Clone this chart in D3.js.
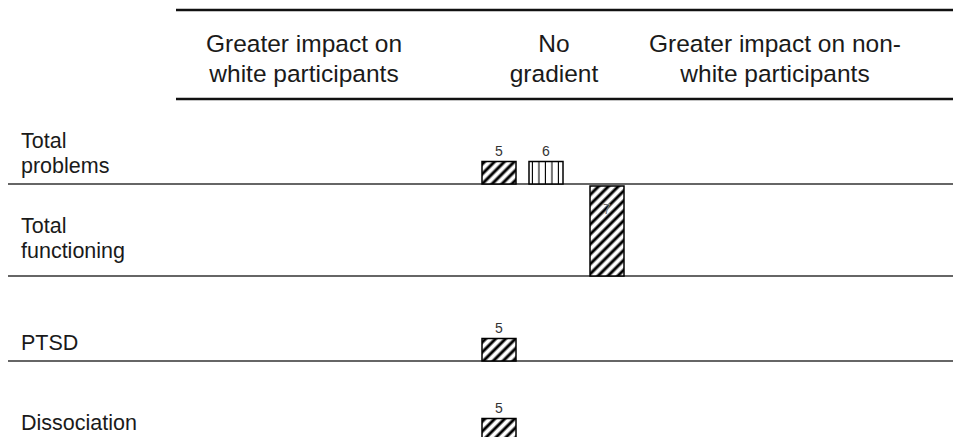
<!DOCTYPE html>
<html>
<head>
<meta charset="utf-8">
<script src="https://cdn.jsdelivr.net/npm/d3@7"></script>
<style>
  body { margin: 0; background: #fff; }
  text { font-family: "Liberation Sans", Arial, sans-serif; fill: #1a1a1a; }
</style>
</head>
<body>
<script>
// harvest plot data
let outcomes = ["Total problems", "Total functioning", "PTSD", "Dissociation"];
let outcomeLines = [["Total", "problems"], ["Total", "functioning"], ["PTSD"], ["Dissociation"]];
let columns = ["white", "none", "nonwhite"];
let columnLines = [["Greater impact on", "white participants"], ["No", "gradient"], ["Greater impact on non-", "white participants"]];

// one entry per study mark
let studyId      = [5, 6, 7, 5, 5];
let studyOutcome = ["Total problems", "Total problems", "Total functioning", "PTSD", "Dissociation"];
let studyColumn  = ["none", "none", "none", "none", "none"];
let studyWeight  = [1, 1, 4, 1, 1];
let studyDesign  = ["cross", "long", "cross", "cross", "cross"];

let width = 953, height = 437;
let headTop = 10, headBottom = 99;
let rowHeights = [85, 92, 85, 80];
let colCenters = [304, 554, 775];

let svg = d3.select("body").append("svg")
  .attr("width", width).attr("height", height);

let defs = svg.append("defs");
let diag = defs.append("pattern")
  .attr("id", "diag").attr("patternUnits", "userSpaceOnUse")
  .attr("width", 7).attr("height", 7)
  .attr("patternTransform", "rotate(45)");
diag.append("rect").attr("width", 7).attr("height", 7).attr("fill", "#fff");
diag.append("line").attr("x1", 2).attr("y1", 0).attr("x2", 2).attr("y2", 7)
  .attr("stroke", "#000").attr("stroke-width", 3);

let vert = defs.append("pattern")
  .attr("id", "vert").attr("patternUnits", "userSpaceOnUse")
  .attr("width", 6.5).attr("height", 6);
vert.append("rect").attr("width", 6.5).attr("height", 6).attr("fill", "#fff");
vert.append("line").attr("x1", 6).attr("y1", 0).attr("x2", 6).attr("y2", 6)
  .attr("stroke", "#000").attr("stroke-width", 1.2);

let fill = d3.scaleOrdinal().domain(["cross", "long"]).range(["url(#diag)", "url(#vert)"]);

// rows
let rowTop = {}, rowBottom = {};
let acc = headBottom;
outcomes.forEach((o, i) => { rowTop[o] = acc; acc += rowHeights[i]; rowBottom[o] = acc; });

let colX = d3.scaleOrdinal().domain(columns).range(colCenters);
// study position inside a column
let offset = d3.scaleLinear().domain([5, 6, 7]).range([-72, -25, 36]);
let barW = 34;
let h = d3.scaleLinear().domain([0, 4]).range([0, 90]);

// header
svg.append("line").attr("x1", 176).attr("x2", width).attr("y1", headTop).attr("y2", headTop)
  .attr("stroke", "#111").attr("stroke-width", 2.5);
svg.append("line").attr("x1", 176).attr("x2", width).attr("y1", headBottom).attr("y2", headBottom)
  .attr("stroke", "#111").attr("stroke-width", 2.5);

columns.forEach((c, i) => {
  let t = svg.append("text").attr("text-anchor", "middle").style("font-size", "24.5px");
  columnLines[i].forEach((l, j) => {
    t.append("tspan").attr("x", colX(c)).attr("y", 52 + j * 30).text(l);
  });
});

// row labels and separators
outcomes.forEach((o, i) => {
  let lines = outcomeLines[i];
  let last = rowTop[o] + Math.min(rowHeights[i], 85) - 11;
  let t = svg.append("text").style("font-size", "21.5px");
  lines.forEach((l, j) => {
    t.append("tspan").attr("x", 21).attr("y", last - (lines.length - 1 - j) * 25).text(l);
  });
  svg.append("line").attr("x1", 8).attr("x2", width)
    .attr("y1", rowBottom[o]).attr("y2", rowBottom[o])
    .attr("stroke", "#333").attr("stroke-width", 1.5);
});

let marks = studyId.map((id, i) => ({
  id: id, outcome: studyOutcome[i], column: studyColumn[i],
  weight: studyWeight[i], design: studyDesign[i]
}));

let g = svg.append("g");
g.selectAll("rect")
  .data(marks)
  .join("rect")
  .attr("x", d => colX(d.column) + offset(d.id))
  .attr("y", d => rowBottom[d.outcome] - h(d.weight))
  .attr("width", barW)
  .attr("height", d => h(d.weight))
  .attr("fill", d => fill(d.design))
  .attr("stroke", "#000")
  .attr("stroke-width", 1.5);

g.selectAll("text")
  .data(marks)
  .join("text")
  .attr("x", d => colX(d.column) + offset(d.id) + barW / 2)
  .attr("y", d => d.weight > 1 ? rowBottom[d.outcome] - h(d.weight) + 28 : rowBottom[d.outcome] - h(d.weight) - 6)
  .attr("text-anchor", "middle")
  .style("font-size", "14px")
  .style("fill", d => d.weight > 1 ? "#777" : "#333")
  .text(d => d.id);
</script>
</body>
</html>
